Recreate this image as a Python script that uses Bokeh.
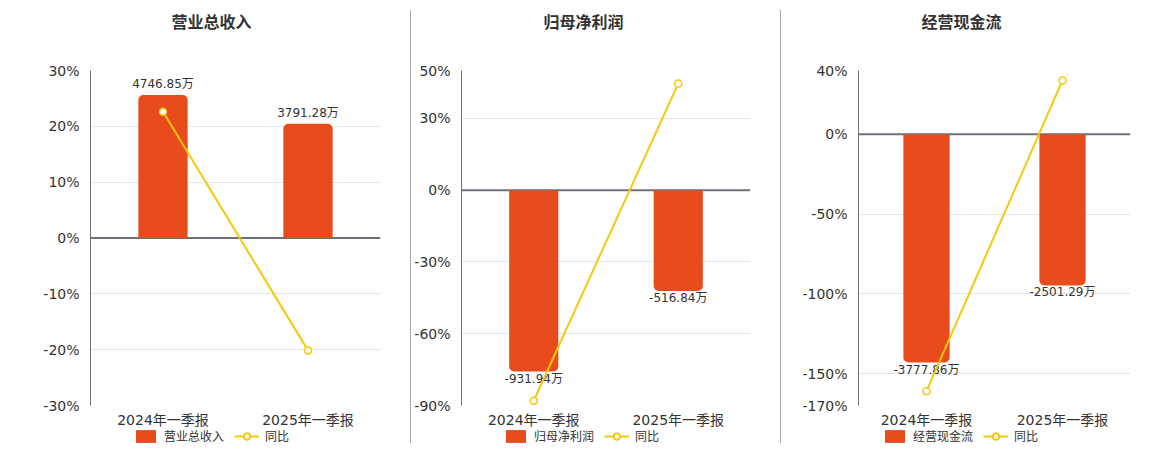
from bokeh.plotting import figure
from bokeh.models import (Range1d, FactorRange, FixedTicker, PrintfTickFormatter,
                          Legend, LegendItem, ColumnDataSource, Div, Span, Title)
from bokeh.layouts import row, column
from bokeh.core.properties import value
from bokeh.embed import file_html
from bokeh.resources import INLINE

# ---------------- data ----------------
quarters = ["2024年一季报", "2025年一季报"]
titles = ["营业总收入", "归母净利润", "经营现金流"]
revenue = [4746.85, 3791.28]
revenue_labels = ["4746.85万", "3791.28万"]
revenue_yoy = [22.6, -20.13]
profit = [-931.94, -516.84]
profit_labels = ["-931.94万", "-516.84万"]
profit_yoy = [-88.0, 44.54]
cashflow = [-3777.86, -2501.29]
cashflow_labels = ["-3777.86万", "-2501.29万"]
cashflow_yoy = [-161.0, 33.79]
ticks1 = [-30, -20, -10, 0, 10, 20, 30]
ticks2 = [-90, -60, -30, 0, 30, 50]
ticks3 = [-170, -150, -100, -50, 0, 40]
yoy_name = "同比"

BAR = "#E84B1C"
LINE = "#F5C80A"
AXIS = "#6E7079"
GRID = "#E0E6F1"
TXT = "#333333"
FONT = "DejaVu Sans, Noto Sans CJK SC"


def panel(title, values, labels, yoy, ticks, bar_range, width, left, right,
          title_offset, legend_x):
    p = figure(x_range=FactorRange(*quarters),
               y_range=Range1d(ticks[0], ticks[-1]),
               width=width, height=430, output_backend="svg",
               toolbar_location=None,
               min_border_left=left, min_border_right=right,
               min_border_top=70, min_border_bottom=25)
    p.extra_y_ranges = {"bars": Range1d(*bar_range)}
    p.outline_line_color = None
    p.background_fill_color = "white"
    p.border_fill_color = "white"

    # spacer between the frame and the title
    p.add_layout(Title(text=" ", text_font_size="1px", standoff=30), "above")

    # title
    p.title.text = title
    p.title.align = "left"
    p.title.vertical_align = "middle"
    p.title.text_font = FONT
    p.title.text_font_size = "16px"
    p.title.text_font_style = "bold"
    p.title.text_color = TXT
    p.title.offset = title_offset
    p.title.standoff = 10

    # axes
    yax = p.yaxis[0]
    yax.ticker = FixedTicker(ticks=ticks)
    yax.formatter = PrintfTickFormatter(format="%d%%")
    yax.axis_line_color = AXIS
    yax.major_tick_line_color = None
    yax.minor_tick_line_color = None
    yax.major_label_text_font = FONT
    yax.major_label_text_font_size = "14px"
    yax.major_label_text_color = TXT
    yax.major_label_standoff = 5

    xax = p.xaxis[0]
    xax.axis_line_color = None
    xax.major_tick_line_color = None
    xax.minor_tick_line_color = None
    xax.major_label_text_font = FONT
    xax.major_label_text_font_size = "14px"
    xax.major_label_text_color = TXT
    xax.major_label_standoff = 0

    p.xgrid.grid_line_color = None
    p.ygrid.ticker = FixedTicker(ticks=ticks)
    p.ygrid.grid_line_color = GRID

    src = ColumnDataSource(dict(q=quarters, v=values, lab=labels, yoy=yoy))
    pos = values[0] >= 0
    radius = (5, 5, 0, 0) if pos else (0, 0, 5, 5)
    p.vbar(x="q", top="v", bottom=0, width=0.34, source=src,
           y_range_name="bars", fill_color=BAR, line_color=None,
           border_radius=radius)
    p.text(x="q", y="v", text="lab", source=src, y_range_name="bars",
           text_align="center",
           text_baseline="bottom" if pos else "top",
           y_offset=-4 if pos else 0,
           text_font=value(FONT), text_font_size="12px", text_color=TXT)

    zero = Span(location=0, dimension="width", line_color=AXIS, line_width=2,
                level="underlay")
    p.add_layout(zero)

    p.line(x="q", y="yoy", source=src, line_color=LINE, line_width=2)
    p.scatter(x="q", y="yoy", source=src, marker="circle", size=7,
              fill_color="white", line_color=LINE, line_width=1.5)

    # legend strip below the chart (hidden proxies carry the marks' styles)
    lg = figure(width=width, height=21, output_backend="svg",
                toolbar_location=None, x_axis_type=None, y_axis_type=None,
                min_border=0, x_range=FactorRange(*quarters),
                margin=(-1, 0, 0, 0))
    lg.outline_line_color = None
    lg.background_fill_alpha = 0
    lg.border_fill_alpha = 0
    b = lg.vbar(x="q", top="v", width=0.3, source=src, fill_color=BAR,
                line_color=None, border_radius=3, visible=False)
    l = lg.line(x="q", y="yoy", source=src, line_color=LINE, line_width=2,
                visible=False)
    s = lg.scatter(x="q", y="yoy", source=src, marker="circle", size=10,
                   fill_color="white", line_color=LINE, line_width=2,
                   visible=False)
    legend = Legend(items=[LegendItem(label=title, renderers=[b]),
                           LegendItem(label=yoy_name, renderers=[l, s])],
                    location=(legend_x, 6), orientation="horizontal",
                    padding=0, margin=0, spacing=10,
                    glyph_width=25, glyph_height=16, label_height=16,
                    label_standoff=6, border_line_color=None,
                    background_fill_alpha=0, inactive_fill_alpha=0,
                    label_text_font=FONT, label_text_font_size="12px",
                    label_text_color=TXT)
    lg.add_layout(legend, "center")
    return column(p, lg, spacing=0)


p1 = panel(titles[0], revenue, revenue_labels, revenue_yoy, ticks1,
           (-5560, 5560), 410, 90, 30, 81, 43)
p2 = panel(titles[1], profit, profit_labels, profit_yoy, ticks2,
           (-1107, 618), 369, 49, 30, 82, 42)
p3 = panel(titles[2], cashflow, cashflow_labels, cashflow_yoy, ticks3,
           (-4490, 1060), 378, 77, 29, 63, 24)

div1 = Div(width=1, height=433, margin=(10, 0, 0, 0),
           styles={"background-color": "#aaaaaa"})
div2 = Div(width=1, height=433, margin=(10, 0, 0, 0),
           styles={"background-color": "#aaaaaa"})

layout = row(p1, div1, p2, div2, p3, spacing=0)
open("out.html", "w").write(file_html(layout, INLINE))
